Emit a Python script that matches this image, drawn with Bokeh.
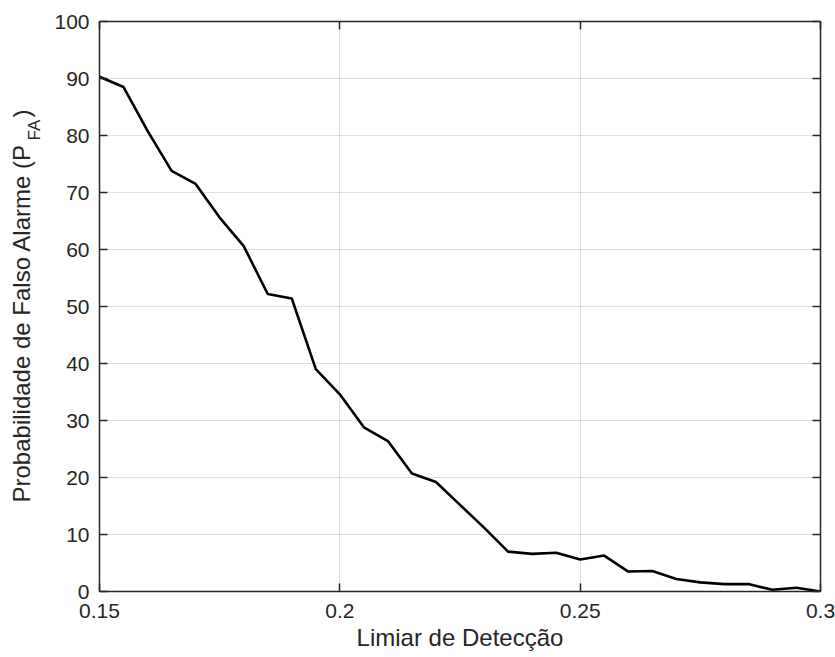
import math
from bokeh.plotting import figure
from bokeh.layouts import row
from bokeh.models import LinearAxis, FixedTicker, Range1d
from bokeh.core.properties import value
from bokeh.embed import file_html
from bokeh.resources import INLINE

# ---- data ----
limiar = [0.150, 0.155, 0.160, 0.165, 0.170, 0.175, 0.180, 0.185, 0.190, 0.195,
          0.200, 0.205, 0.210, 0.215, 0.220, 0.225, 0.230, 0.235, 0.240, 0.245,
          0.250, 0.255, 0.260, 0.265, 0.270, 0.275, 0.280, 0.285, 0.290, 0.295, 0.300]
pfa = [90.3, 88.5, 80.8, 73.8, 71.5, 65.6, 60.6, 52.2, 51.4, 39.0,
       34.6, 28.8, 26.4, 20.7, 19.2, 15.2, 11.2, 7.0, 6.6, 6.8,
       5.6, 6.3, 3.5, 3.6, 2.2, 1.6, 1.3, 1.3, 0.3, 0.65, 0.0]
x_ticks = [0.15, 0.2, 0.25, 0.3]
x_tick_labels = ["0.15", "0.2", "0.25", "0.3"]
y_ticks = [0, 10, 20, 30, 40, 50, 60, 70, 80, 90, 100]
x_title = "Limiar de Detecção"
y_title_main = "Probabilidade de Falso Alarme (P"
y_title_sub = "FA"
y_title_end = ")"

FONT = "Liberation Sans"
AX = "#262626"
W, H = 835, 657
LEFT_W = 50
TOP_B, BOT_B = 21, 66
FRAME_H = H - TOP_B - BOT_B

# ---- main plot ----
p = figure(width=W - LEFT_W, height=H, output_backend="svg", toolbar_location=None,
           x_range=Range1d(0.15, 0.3), y_range=Range1d(0, 100),
           min_border_left=99 - LEFT_W, min_border_right=15, min_border_top=TOP_B,
           min_border_bottom=BOT_B, x_axis_location=None, y_axis_location=None)
p.outline_line_color = None
p.background_fill_color = "white"
p.border_fill_color = "white"

p.line(limiar, pfa, line_color="black", line_width=2.6)

overrides = {t: s for t, s in zip(x_ticks, x_tick_labels)}

def style(ax, ticks, show_labels):
    ax.ticker = FixedTicker(ticks=ticks)
    ax.axis_line_color = AX
    ax.axis_line_width = 1.5
    ax.major_tick_line_color = AX
    ax.major_tick_line_width = 1.5
    ax.major_tick_in = 8
    ax.major_tick_out = 0
    ax.minor_tick_line_color = None
    ax.major_label_text_font = FONT
    ax.major_label_text_color = AX
    if show_labels:
        ax.major_label_text_font_size = "21px"
    else:
        ax.major_label_text_font_size = "1px"
        ax.major_label_text_color = None
        ax.major_label_standoff = 0

xb = LinearAxis()
style(xb, x_ticks, True)
xb.major_label_overrides = overrides
xb.major_label_standoff = 12
xb.axis_label = x_title
xb.axis_label_text_font = FONT
xb.axis_label_text_font_size = "24px"
xb.axis_label_text_font_style = "normal"
xb.axis_label_text_color = AX
xb.axis_label_standoff = 3
p.add_layout(xb, "below")

xt = LinearAxis()
style(xt, x_ticks, False)
p.add_layout(xt, "above")

yl = LinearAxis()
style(yl, y_ticks, True)
yl.major_label_standoff = 10
p.add_layout(yl, "left")

yr = LinearAxis()
style(yr, y_ticks, False)
p.add_layout(yr, "right")

p.xgrid.ticker = FixedTicker(ticks=x_ticks)
p.ygrid.ticker = FixedTicker(ticks=y_ticks)
for g in (p.xgrid, p.ygrid):
    g.grid_line_color = AX
    g.grid_line_alpha = 0.15
    g.grid_line_width = 1

# ---- y title panel: pixel coordinates, y measured upward from frame bottom ----
q = figure(width=LEFT_W, height=H, output_backend="svg", toolbar_location=None,
           x_range=Range1d(0, LEFT_W), y_range=Range1d(0, FRAME_H),
           min_border_left=0, min_border_right=0, min_border_top=TOP_B,
           min_border_bottom=BOT_B, x_axis_location=None, y_axis_location=None)
q.outline_line_color = None
q.background_fill_color = "white"
q.border_fill_color = "white"
q.xgrid.visible = False
q.ygrid.visible = False

common = dict(angle=math.pi / 2, text_align="left", text_baseline="middle",
              text_font=value(FONT), text_color=AX)
q.text(x=[21], y=[89], text=[y_title_main], text_font_size="24px", **common)
q.text(x=[34], y=[451], text=[y_title_sub], text_font_size="17px", **common)
q.text(x=[21], y=[474], text=[y_title_end], text_font_size="24px", **common)

layout = row(q, p, spacing=0)
open("out.html", "w").write(file_html(layout, INLINE))
